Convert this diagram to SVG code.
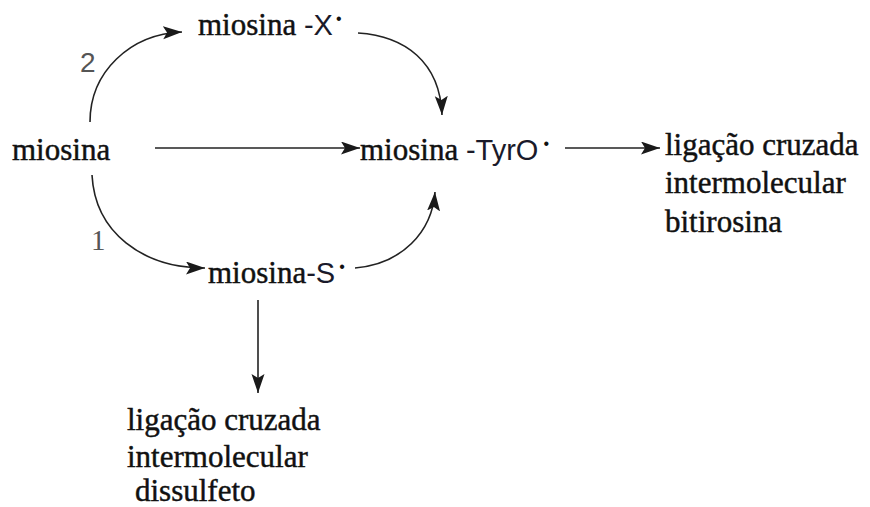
<svg xmlns="http://www.w3.org/2000/svg" width="870" height="507" viewBox="0 0 870 507">
  <style>
    .serif { font-family: "Liberation Serif", "Times New Roman", serif; font-size: 31px; fill: #111; stroke: #111; stroke-width: 0.45; }
    .sans { font-family: "Liberation Sans", Arial, sans-serif; font-size: 29px; fill: #1a1a2a; stroke: none; }
    .rad { font-family: "Liberation Sans", Arial, sans-serif; font-size: 16px; fill: #111; stroke: none; }
    .num { font-family: "Liberation Sans", Arial, sans-serif; font-size: 28px; fill: #555; }
    .num1 { font-family: "Liberation Serif", "Times New Roman", serif; font-size: 29px; fill: #555; }
    .edge { fill: none; stroke: #222; stroke-width: 1.6; }
  </style>
  <defs>
    <marker id="arrow" markerUnits="userSpaceOnUse" markerWidth="22" markerHeight="14" refX="19" refY="6.5" orient="auto">
      <path d="M0,0 L19,6.5 L0,13 L4,6.5 z" fill="#1a1a1a"/>
    </marker>
  </defs>
  <rect width="870" height="507" fill="#fff"/>

  <g id="connectors">
    <path class="edge" marker-end="url(#arrow)" d="M155,148 L360,148"/>
    <path class="edge" marker-end="url(#arrow)" d="M565,148 L660,148"/>
    <path class="edge" marker-end="url(#arrow)" d="M90,122 C90,72 130,34 182,32"/>
    <path class="edge" marker-end="url(#arrow)" d="M358,33 C405,36 440,62 442,115"/>
    <path class="edge" marker-end="url(#arrow)" d="M92,175 C95,232 142,268 205,268"/>
    <path class="edge" marker-end="url(#arrow)" d="M355,268 C402,264 432,232 435,192"/>
    <path class="edge" marker-end="url(#arrow)" d="M258,300 L258,393"/>
    <text class="num" x="80" y="72">2</text>
    <text class="num1" x="91" y="250">1</text>
  </g>

  <g id="miosina">
    <text class="serif" x="12" y="160">miosina</text>
  </g>
  <g id="miosina-X">
    <text class="serif" x="198" y="35">miosina <tspan class="sans">-X</tspan><tspan class="rad" dx="3" dy="-11">•</tspan></text>
  </g>
  <g id="miosina-TyrO">
    <text class="serif" x="360" y="160">miosina <tspan class="sans">-TyrO</tspan><tspan class="rad" dx="5" dy="-11">•</tspan></text>
  </g>
  <g id="miosina-S">
    <text class="serif" x="208" y="283">miosina<tspan class="sans">-S</tspan><tspan class="rad" dx="4" dy="-11">•</tspan></text>
  </g>
  <g id="bitirosina">
    <text class="serif" x="665" y="155">ligação cruzada</text>
    <text class="serif" x="665" y="193">intermolecular</text>
    <text class="serif" x="665" y="232">bitirosina</text>
  </g>
  <g id="dissulfeto">
    <text class="serif" x="127" y="430">ligação cruzada</text>
    <text class="serif" x="127" y="467">intermolecular</text>
    <text class="serif" x="135" y="501">dissulfeto</text>
  </g>
</svg>
